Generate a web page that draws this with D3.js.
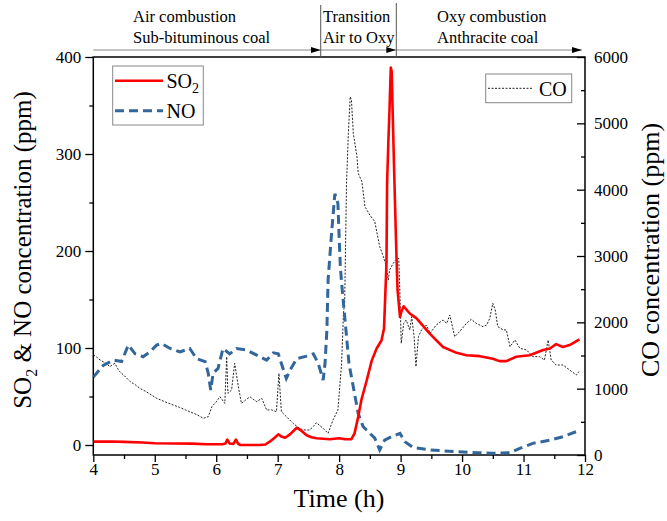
<!DOCTYPE html>
<html>
<head>
<meta charset="utf-8">
<script src="https://cdn.jsdelivr.net/npm/d3@7"></script>
<style>
  body { margin: 0; background: #fff; }
  svg { font-family: "Liberation Serif", "Times New Roman", serif; }
</style>
</head>
<body>
<div id="chart"></div>
<script>
// values: [time (h), ppm]
var so2 = [[4.0,3.5],[4.3,3.6],[4.5,3.2],[4.8,2.6],[5.0,1.8],[5.3,1.6],[5.6,1.4],[5.85,0.8],[6.1,0.8],[6.15,1.5],[6.18,5.5],[6.22,1.5],[6.28,1.2],[6.32,5.5],[6.36,1],[6.4,0],[6.7,0],[6.8,0.5],[6.87,3.4],[6.95,7.5],[7.01,11],[7.05,9],[7.12,7.5],[7.2,11],[7.31,17.8],[7.38,15],[7.47,10],[7.55,8],[7.63,7],[7.85,6],[8.0,7],[8.1,6],[8.2,6],[8.25,12],[8.31,29],[8.36,46],[8.45,67],[8.53,87],[8.61,99.5],[8.69,108],[8.73,120],[8.77,187],[8.78,270],[8.8,311],[8.82,347],[8.84,389],[8.855,385],[8.87,345],[8.9,270],[8.93,200],[8.95,160],[8.96,153],[8.99,132],[9.01,137],[9.05,143],[9.15,135.6],[9.26,130.5],[9.47,115],[9.69,101],[9.91,95],[10.07,92.6],[10.29,91.6],[10.5,89],[10.61,86.5],[10.72,86.5],[10.88,91],[11.1,92.6],[11.32,98],[11.43,99.5],[11.53,104],[11.64,101],[11.75,103],[11.91,109]];

var no = [[4.0,70],[4.16,82],[4.33,87.5],[4.46,86],[4.57,103],[4.68,94],[4.81,91],[4.92,96],[5.03,103],[5.11,104.7],[5.25,99.5],[5.41,96],[5.57,99.5],[5.68,89],[5.82,86],[5.87,74],[5.91,56.6],[5.95,74],[6.03,79],[6.11,99.5],[6.22,94],[6.33,99.5],[6.49,98],[6.66,92.6],[6.82,87.5],[6.93,95],[7.01,94],[7.06,84],[7.14,68.6],[7.2,77],[7.31,89],[7.47,91.6],[7.58,94],[7.66,84],[7.74,67],[7.77,84],[7.8,118],[7.82,170],[7.88,221],[7.93,259],[7.98,249],[8.0,214],[8.02,183],[8.05,160],[8.12,112],[8.16,84],[8.23,60],[8.31,32.5],[8.39,19],[8.5,12],[8.58,7],[8.66,-5],[8.74,5],[8.85,8.5],[8.99,12],[9.07,3.4],[9.2,-2.4],[9.47,-5],[9.91,-6.9],[10.23,-7.9],[10.5,-8.5],[10.78,-8],[10.94,-3.4],[11.15,1.7],[11.43,5],[11.64,8.5],[11.91,15]];

var co = [[4.0,1508],[4.05,1480],[4.11,1432],[4.17,1400],[4.22,1370],[4.27,1332],[4.31,1360],[4.35,1382],[4.4,1300],[4.43,1256],[4.5,1200],[4.6,1106],[4.68,1060],[4.76,1005],[4.85,960],[4.92,920],[5.03,855],[5.12,820],[5.2,790],[5.3,754],[5.4,720],[5.5,680],[5.57,653],[5.68,610],[5.79,553],[5.87,578],[5.93,729],[6.0,800],[6.06,879],[6.14,779],[6.17,1482],[6.19,930],[6.25,980],[6.3,1382],[6.36,1030],[6.41,779],[6.48,830],[6.55,879],[6.6,840],[6.66,804],[6.74,855],[6.82,678],[6.9,680],[6.98,653],[7.02,1231],[7.06,653],[7.17,553],[7.25,477],[7.33,420],[7.41,377],[7.52,377],[7.58,430],[7.63,487],[7.69,440],[7.74,402],[7.82,327],[7.9,528],[7.98,678],[8.04,1382],[8.07,2136],[8.09,2300],[8.12,4096],[8.15,4850],[8.18,5402],[8.2,5352],[8.23,4850],[8.29,4497],[8.31,4247],[8.37,4121],[8.42,3743],[8.5,3618],[8.58,3517],[8.66,3140],[8.72,2990],[8.76,2864],[8.8,2638],[8.82,2789],[8.88,2890],[8.93,2950],[8.97,2965],[8.99,2387],[9.01,1684],[9.05,1985],[9.09,2035],[9.15,1885],[9.18,2085],[9.22,1784],[9.25,1332],[9.29,1784],[9.34,1885],[9.42,1960],[9.48,1835],[9.58,1960],[9.69,2035],[9.75,1985],[9.8,2110],[9.88,1784],[9.96,1860],[10.07,1985],[10.15,2045],[10.23,1985],[10.34,1935],[10.4,1960],[10.45,2060],[10.5,2287],[10.54,2186],[10.58,1935],[10.67,1885],[10.72,1885],[10.78,1633],[10.86,1734],[10.94,1608],[11.05,1583],[11.15,1482],[11.26,1482],[11.34,1432],[11.4,1734],[11.45,1432],[11.53,1357],[11.64,1357],[11.75,1281],[11.86,1206],[11.9,1256]];

var xTicks = [4, 5, 6, 7, 8, 9, 10, 11, 12];
var leftTicks = [0, 100, 200, 300, 400];
var rightTicks = [0, 1000, 2000, 3000, 4000, 5000, 6000];

// stage boundaries (h) and header labels
var stageBounds = [4, 7.7, 8.93, 11.95];
var stageLabels = [["Air combustion", "Sub-bituminous coal"], ["Transition", "Air to Oxy"], ["Oxy combustion", "Anthracite coal"]];

var FONT = '"Liberation Serif", "Times New Roman", serif';
var W = 667, H = 521;
var pL = 93.3, pR = 585, pT = 57, pB = 455;

var svg = d3.select("#chart").append("svg")
  .attr("width", W)
  .attr("height", H);

var x = d3.scaleLinear().domain([4, 12]).range([pL, pR]);
var yL = d3.scaleLinear().domain([-10.3, 400]).range([pB, pT]);
var yR = d3.scaleLinear().domain([0, 6000]).range([pB, pT]);
var fmt = d3.format("d");

svg.append("defs").append("clipPath").attr("id", "plot")
  .append("rect")
  .attr("x", pL).attr("y", pT)
  .attr("width", pR - pL).attr("height", pB - pT);

// axes
function tidy(g) {
  g.attr("font-family", FONT).attr("font-size", 17);
  g.select(".domain").remove();
  g.selectAll("line").attr("stroke", "#000").attr("stroke-width", 1.3);
  g.selectAll("text").attr("fill", "#000");
}

svg.append("g")
  .attr("transform", "translate(0," + pB + ")")
  .call(d3.axisBottom(x).tickValues(xTicks).tickSize(7).tickPadding(1).tickFormat(fmt))
  .call(tidy);
svg.append("g")
  .attr("transform", "translate(0," + pB + ")")
  .call(d3.axisBottom(x).tickValues(d3.range(4.5, 12, 1)).tickSize(4).tickFormat(""))
  .call(tidy);

svg.append("g")
  .attr("transform", "translate(" + pL + ",0)")
  .call(d3.axisLeft(yL).tickValues(leftTicks).tickSize(8).tickPadding(4).tickFormat(fmt))
  .call(tidy);
svg.append("g")
  .attr("transform", "translate(" + pL + ",0)")
  .call(d3.axisLeft(yL).tickValues([50, 150, 250, 350]).tickSize(4).tickFormat(""))
  .call(tidy);

svg.append("g")
  .attr("transform", "translate(" + pR + ",0)")
  .call(d3.axisRight(yR).tickValues(rightTicks).tickSizeInner(-8).tickSizeOuter(0).tickPadding(9).tickFormat(fmt))
  .call(tidy);
svg.append("g")
  .attr("transform", "translate(" + pR + ",0)")
  .call(d3.axisRight(yR).tickValues(d3.range(500, 6000, 1000)).tickSizeInner(-4).tickSizeOuter(0).tickFormat(""))
  .call(tidy);

// frame
svg.append("rect")
  .attr("x", pL).attr("y", pT)
  .attr("width", pR - pL).attr("height", pB - pT)
  .attr("fill", "none")
  .attr("stroke", "#000")
  .attr("stroke-width", 1.5);

// series
var lineL = d3.line().x(function(d) { return x(d[0]); }).y(function(d) { return yL(d[1]); });
var lineR = d3.line().x(function(d) { return x(d[0]); }).y(function(d) { return yR(d[1]); });

var plot = svg.append("g").attr("clip-path", "url(#plot)");

plot.append("path")
  .attr("d", lineR(co))
  .attr("fill", "none")
  .attr("stroke", "#222")
  .attr("stroke-width", 1)
  .attr("stroke-dasharray", "2,1.5");

plot.append("path")
  .attr("d", lineL(no))
  .attr("fill", "none")
  .attr("stroke", "#33669a")
  .attr("stroke-width", 3)
  .attr("stroke-dasharray", "9,5");

plot.append("path")
  .attr("d", lineL(so2))
  .attr("fill", "none")
  .attr("stroke", "#ff0000")
  .attr("stroke-width", 2.6)
  .attr("stroke-linejoin", "round");

// stage header: arrows, dividers, labels
svg.append("defs").append("marker")
  .attr("id", "head")
  .attr("viewBox", "0 0 10 6")
  .attr("refX", 10).attr("refY", 3)
  .attr("markerWidth", 10).attr("markerHeight", 6)
  .attr("markerUnits", "userSpaceOnUse")
  .attr("orient", "auto")
  .append("path")
  .attr("d", "M0,0L10,3L0,6Z")
  .attr("fill", "#000");

var arrowY = 50;
var divTops = [5, 3];
for (var i = 0; i < 3; i++) {
  var x0 = x(stageBounds[i]), x1 = Math.min(x(stageBounds[i + 1]), pR - 2);
  svg.append("line")
    .attr("x1", x0).attr("x2", x1)
    .attr("y1", arrowY).attr("y2", arrowY)
    .attr("stroke", "#888")
    .attr("stroke-width", 1)
    .attr("marker-end", "url(#head)");
  if (i > 0) {
    svg.append("line")
      .attr("x1", x0).attr("x2", x0)
      .attr("y1", divTops[i - 1]).attr("y2", pT)
      .attr("stroke", "#555")
      .attr("stroke-width", 1);
  }
}

var labelX = [133, 323, 437];
stageLabels.forEach(function(l, i) {
  svg.append("text").attr("x", labelX[i]).attr("y", 22).style("font-size", "16.5px").text(l[0]);
  svg.append("text").attr("x", labelX[i]).attr("y", 43).style("font-size", "16.5px").text(l[1]);
});

// axis titles
svg.append("text")
  .attr("x", 339).attr("y", 507)
  .attr("text-anchor", "middle")
  .style("font-size", "26px")
  .text("Time (h)");

var lt = svg.append("text")
  .attr("transform", "translate(31,250) rotate(-90)")
  .attr("text-anchor", "middle")
  .style("font-size", "25px");
lt.append("tspan").text("SO");
lt.append("tspan").attr("dy", 6).style("font-size", "16px").text("2");
lt.append("tspan").attr("dy", -6).text(" & NO concentration (ppm)");

svg.append("text")
  .attr("transform", "translate(650,250) rotate(-90)")
  .attr("text-anchor", "middle")
  .attr("dy", "0.35em")
  .style("font-size", "26px")
  .text("CO concentration (ppm)");

// legends
var leg1 = svg.append("g");
leg1.append("rect")
  .attr("x", 112.7).attr("y", 66).attr("width", 90.6).attr("height", 59)
  .attr("fill", "#fff").attr("stroke", "#888").attr("stroke-width", 1);
leg1.append("line").attr("x1", 115).attr("x2", 163).attr("y1", 80.7).attr("y2", 80.7)
  .attr("stroke", "#ff0000").attr("stroke-width", 2.6);
leg1.append("line").attr("x1", 115).attr("x2", 163).attr("y1", 110.7).attr("y2", 110.7)
  .attr("stroke", "#33669a").attr("stroke-width", 3).attr("stroke-dasharray", "9,5");
var s = leg1.append("text").attr("x", 166.5).attr("y", 88).style("font-size", "20px");
s.append("tspan").text("SO");
s.append("tspan").attr("dy", 5).style("font-size", "14px").text("2");
leg1.append("text").attr("x", 166.5).attr("y", 118).style("font-size", "20px").text("NO");

var leg2 = svg.append("g");
leg2.append("rect")
  .attr("x", 485.7).attr("y", 74).attr("width", 86).attr("height", 28.7)
  .attr("fill", "#fff").attr("stroke", "#888").attr("stroke-width", 1);
leg2.append("line").attr("x1", 488).attr("x2", 533).attr("y1", 88.3).attr("y2", 88.3)
  .attr("stroke", "#222").attr("stroke-width", 1).attr("stroke-dasharray", "2,1.5");
leg2.append("text").attr("x", 539).attr("y", 95.5).style("font-size", "20px").text("CO");
</script>
</body>
</html>
